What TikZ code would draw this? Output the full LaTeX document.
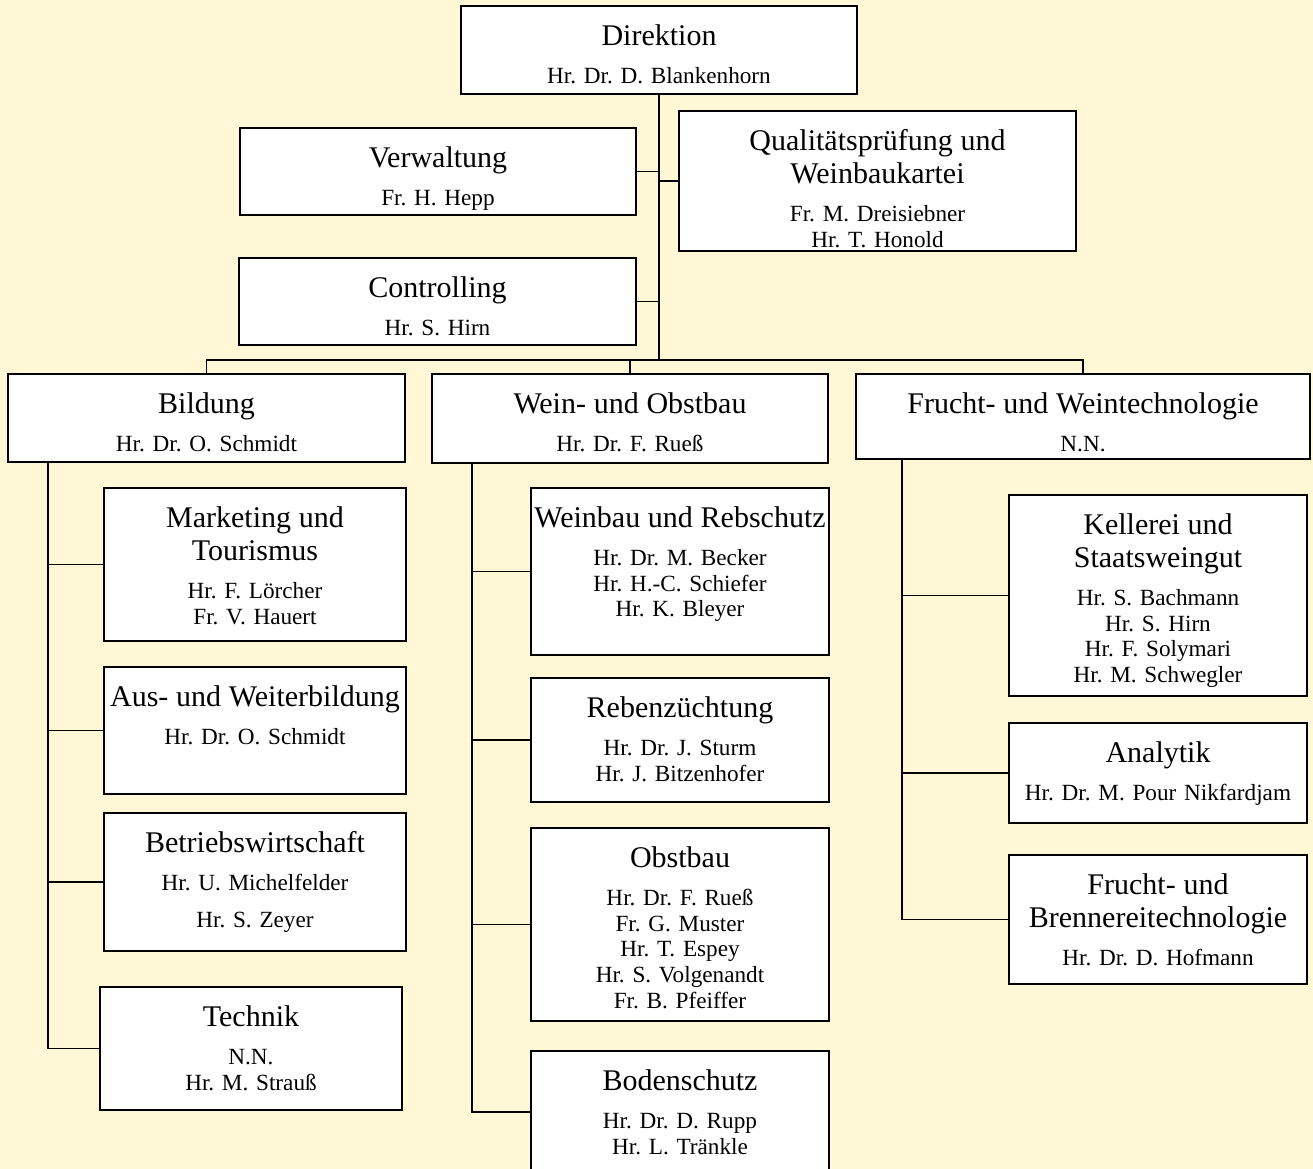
\documentclass[tikz,border=0pt]{standalone}
\usepackage{fontspec}
\setmainfont{Liberation Serif}
\usepackage{tikz}
\usetikzlibrary{positioning, fit, calc}

\definecolor{cream}{RGB}{255,247,214}

% title lines of a box, larger type
\newcommand{\ttl}[1]{{\fontsize{22.5pt}{24.75pt}\selectfont #1\par}\vspace{9.2pt}}

\begin{document}
\frenchspacing
\begin{tikzpicture}[
    x=0.75pt, y=-0.75pt,
    unit/.style={rectangle, draw=black, line width=0.95pt, fill=white, inner sep=0pt, outer sep=0pt},
    unittext/.style={anchor=base, text width=330pt, align=center, inner sep=0pt,
        font=\fontsize{17.4pt}{19.3pt}\selectfont},
    link/.style={line width=1.2pt},
    trunk/.style={line width=1.6pt}
]

\useasboundingbox (0,0) rectangle (1313,1169);
\fill[cream] (0,0) rectangle (1313,1169);

% Leitung
\node[unit, fit={(461,6) (857,94)}] (direktion) {};
\node[unit, fit={(240,128) (636,215)}] (verwaltung) {};
\node[unit, fit={(679,111) (1076,251)}] (qualitaet) {};
\node[unit, fit={(239,258) (636,345)}] (controlling) {};

% Abteilungen
\node[unit, fit={(8,374) (405,462)}] (bildung) {};
\node[unit, fit={(432,374) (828,463)}] (weinobst) {};
\node[unit, fit={(856,374) (1310,459)}] (fruchtwein) {};

% Bildung
\node[unit, fit={(104,488) (406,641)}] (marketing) {};
\node[unit, fit={(104,667) (406,794)}] (ausweiter) {};
\node[unit, fit={(104,813) (406,951)}] (betrieb) {};
\node[unit, fit={(100,987) (402,1110)}] (technik) {};

% Wein- und Obstbau
\node[unit, fit={(531,488) (829,655)}] (weinbau) {};
\node[unit, fit={(531,678) (829,802)}] (reben) {};
\node[unit, fit={(531,828) (829,1021)}] (obstbau) {};
\node[unit, fit={(531,1051) (829,1173)}] (boden) {};

% Frucht- und Weintechnologie
\node[unit, fit={(1009,495) (1307,696)}] (kellerei) {};
\node[unit, fit={(1009,723) (1307,823)}] (analytik) {};
\node[unit, fit={(1009,855) (1307,984)}] (brennerei) {};

% Texte
\node[unittext] (direktion-t) at ([yshift=-29.6pt]direktion.north) {\ttl{Direktion}Hr. Dr. D. Blankenhorn};
\node[unittext] (verwaltung-t) at ([yshift=-29.6pt]verwaltung.north) {\ttl{Verwaltung}Fr. H. Hepp};
\node[unittext] (qualitaet-t) at ([yshift=-29.6pt]qualitaet.north) {\ttl{Qualitätsprüfung und\\Weinbaukartei}Fr. M. Dreisiebner\\Hr. T. Honold};
\node[unittext] (controlling-t) at ([yshift=-29.6pt]controlling.north) {\ttl{Controlling}Hr. S. Hirn};
\node[unittext] (bildung-t) at ([yshift=-29.6pt]bildung.north) {\ttl{Bildung}Hr. Dr. O. Schmidt};
\node[unittext] (weinobst-t) at ([yshift=-29.6pt]weinobst.north) {\ttl{Wein- und Obstbau}Hr. Dr. F. Rueß};
\node[unittext] (fruchtwein-t) at ([yshift=-29.6pt]fruchtwein.north) {\ttl{Frucht- und Weintechnologie}N.N.};
\node[unittext] (marketing-t) at ([yshift=-29.6pt]marketing.north) {\ttl{Marketing und\\Tourismus}Hr. F. Lörcher\\Fr. V. Hauert};
\node[unittext] (ausweiter-t) at ([yshift=-29.6pt]ausweiter.north) {\ttl{Aus- und Weiterbildung}Hr. Dr. O. Schmidt};
\node[unittext] (betrieb-t) at ([yshift=-29.6pt]betrieb.north) {\ttl{Betriebswirtschaft}Hr. U. Michelfelder\\[8.5pt]Hr. S. Zeyer};
\node[unittext] (technik-t) at ([yshift=-29.6pt]technik.north) {\ttl{Technik}N.N.\\Hr. M. Strauß};
\node[unittext] (weinbau-t) at ([yshift=-29.6pt]weinbau.north) {\ttl{Weinbau und Rebschutz}Hr. Dr. M. Becker\\Hr. H.-C. Schiefer\\Hr. K. Bleyer};
\node[unittext] (reben-t) at ([yshift=-29.6pt]reben.north) {\ttl{Rebenzüchtung}Hr. Dr. J. Sturm\\Hr. J. Bitzenhofer};
\node[unittext] (obstbau-t) at ([yshift=-29.6pt]obstbau.north) {\ttl{Obstbau}Hr. Dr. F. Rueß\\Fr. G. Muster\\Hr. T. Espey\\Hr. S. Volgenandt\\Fr. B. Pfeiffer};
\node[unittext] (boden-t) at ([yshift=-29.6pt]boden.north) {\ttl{Bodenschutz}Hr. Dr. D. Rupp\\Hr. L. Tränkle};
\node[unittext] (kellerei-t) at ([yshift=-29.6pt]kellerei.north) {\ttl{Kellerei und\\Staatsweingut}Hr. S. Bachmann\\Hr. S. Hirn\\Hr. F. Solymari\\Hr. M. Schwegler};
\node[unittext] (analytik-t) at ([yshift=-29.6pt]analytik.north) {\ttl{Analytik}Hr. Dr. M. Pour Nikfardjam};
\node[unittext] (brennerei-t) at ([yshift=-29.6pt]brennerei.north) {\ttl{Frucht- und\\Brennereitechnologie}Hr. Dr. D. Hofmann};

% Verbindungen
\coordinate (bus) at (direktion.south |- 0,360);
\coordinate (bspine) at ([xshift=30pt]bildung.south west);
\coordinate (wspine) at ([xshift=30pt]weinobst.south west);
\coordinate (fspine) at ([xshift=34.5pt]fruchtwein.south west);

\draw[trunk] (direktion.south) -- (bus);
\draw[link] (verwaltung.east) -- (verwaltung.east -| bus);
\draw[link] (qualitaet.west) -- (qualitaet.west -| bus);
\draw[link] (controlling.east) -- (controlling.east -| bus);
\draw[link] (bildung.north) |- (bus) -| (fruchtwein.north);
\draw[link] (weinobst.north) -- (weinobst.north |- bus);

\draw[link] (bspine) |- (technik.west);
\draw[link] (marketing.west) -- (marketing.west -| bspine);
\draw[link] (ausweiter.west) -- (ausweiter.west -| bspine);
\draw[link] (betrieb.west) -- (betrieb.west -| bspine);

\draw[link] (wspine) |- (boden.west);
\draw[link] (weinbau.west) -- (weinbau.west -| wspine);
\draw[link] (reben.west) -- (reben.west -| wspine);
\draw[link] (obstbau.west) -- (obstbau.west -| wspine);

\draw[link] (fspine) |- (brennerei.west);
\draw[link] (kellerei.west) -- (kellerei.west -| fspine);
\draw[link] (analytik.west) -- (analytik.west -| fspine);

\end{tikzpicture}
\end{document}
